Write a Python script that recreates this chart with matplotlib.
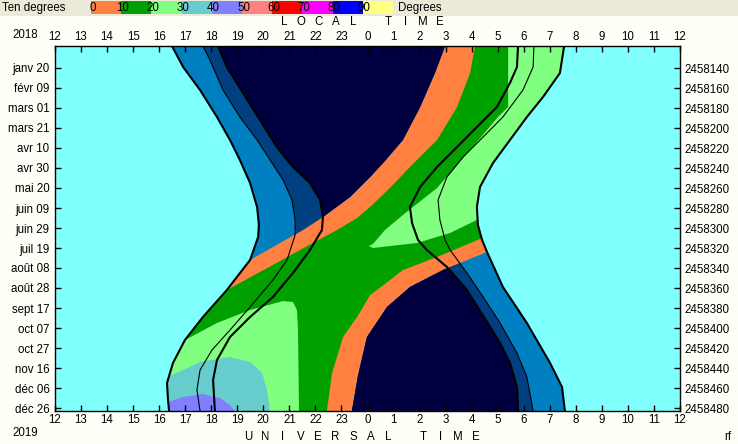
import matplotlib
matplotlib.use('Agg')
import matplotlib.pyplot as plt
from matplotlib.patches import Polygon, Rectangle

# ---------------- data (x: hours after local noon, y: JD - 2458000) -------------
hour_labels = ['12', '13', '14', '15', '16', '17', '18', '19', '20', '21', '22', '23',
               '0', '1', '2', '3', '4', '5', '6', '7', '8', '9', '10', '11', '12']
date_labels = ['janv 20', 'févr 09', 'mars 01', 'mars 21', 'avr 10', 'avr 30', 'mai 20',
               'juin 09', 'juin 29', 'juil 19', 'août 08', 'août 28', 'sept 17', 'oct 07',
               'oct 27', 'nov 16', 'déc 06', 'déc 26']
jd_ticks = [140, 160, 180, 200, 220, 240, 260, 280, 300, 320, 340, 360, 380, 400, 420,
            440, 460, 480]
jd_labels = ['2458140', '2458160', '2458180', '2458200', '2458220', '2458240', '2458260',
             '2458280', '2458300', '2458320', '2458340', '2458360', '2458380', '2458400',
             '2458420', '2458440', '2458460', '2458480']
day_range = [118, 483]

# evening: sunset (E1), civil (E2), nautical (E3)
E1_d = [118, 139, 162, 189, 212, 232, 255, 279, 297, 309, 332, 362, 389, 412, 435, 455, 472, 483]
E1_t = [4.49, 4.92, 5.57, 6.22, 6.72, 7.10, 7.49, 7.76, 7.83, 7.80, 7.49, 6.60, 5.68, 4.99, 4.53, 4.30, 4.34, 4.38]
E2_d = [118, 132, 162, 189, 212, 232, 252, 272, 292, 307, 332, 352, 379, 402, 422, 442, 462, 483]
E2_t = [5.68, 5.95, 6.45, 7.10, 7.76, 8.26, 8.76, 9.10, 9.22, 9.22, 8.91, 8.37, 7.49, 6.72, 6.03, 5.57, 5.45, 5.57]
E3_d = [118, 139, 165, 192, 219, 239, 255, 272, 289, 302, 322, 345, 369, 389, 409, 432, 452, 483]
E3_t = [6.26, 6.60, 7.22, 7.87, 8.52, 9.14, 9.79, 10.18, 10.29, 10.25, 9.79, 9.14, 8.37, 7.49, 6.72, 6.22, 6.07, 6.14]
# morning: nautical (M3), civil (M2), sunrise (M1)
M3_d = [118, 139, 155, 179, 199, 219, 239, 259, 279, 295, 312, 322, 339, 362, 394, 415, 435, 459, 483]
M3_t = [17.78, 17.74, 17.47, 16.97, 16.20, 15.44, 14.67, 14.02, 13.63, 13.71, 13.94, 14.28, 15.05, 15.82, 16.59, 17.09, 17.47, 17.74, 17.78]
M2_d = [118, 139, 162, 189, 209, 229, 249, 272, 292, 312, 322, 345, 369, 395, 425, 449, 483]
M2_t = [18.39, 18.36, 17.97, 17.20, 16.44, 15.67, 15.05, 14.71, 14.78, 14.98, 15.17, 15.82, 16.44, 17.09, 17.74, 18.12, 18.36]
M1_d = [118, 145, 169, 189, 212, 235, 259, 279, 297, 312, 324, 359, 395, 435, 459, 483]
M1_t = [19.55, 19.39, 18.74, 18.12, 17.47, 16.82, 16.32, 16.20, 16.24, 16.40, 16.59, 17.20, 18.12, 19.01, 19.47, 19.58]

# altitude 0 deg contours (object below horizon regions)
below_upper_t = [0, 14.98, 14.98, 14.59, 14.02, 13.36, 12.60, 12.10, 11.33, 10.29, 9.52, 8.64, 7.49, 6.72, 0]
below_upper_d = [118, 118, 118, 145, 179, 212, 235, 249, 269, 289, 302, 315, 332, 340, 340]
below_lower_t = [11.40, 11.64, 11.98, 12.75, 13.63, 14.90, 15.55, 16.59, 17.47, 24, 24]
below_lower_d = [483, 447, 409, 379, 359, 342, 335, 324, 317, 317, 483]
# altitude > 10 deg
alt10_t = [16.13, 15.94, 15.44, 14.67, 13.63, 12.86, 12.10, 11.60, 10.83, 9.41, 7.87, 6.60, 5.57, 0,
           0, 10.44, 10.64, 11.06, 11.60, 12.10, 12.67, 13.36, 14.67, 16.32, 17.09, 24, 24]
alt10_d = [118, 145, 179, 212, 239, 260, 279, 290, 302, 322, 344, 362, 372, 372,
           483, 483, 445, 409, 389, 367, 356, 342, 329, 311, 304, 304, 118]
# altitude > 20 deg (morning tongue, and evening lower-left region)
alt20a_t = [17.40, 17.40, 17.01, 15.94, 14.67, 13.36, 12.67, 12.21, 12.05, 12.21, 13.90, 15.17, 16.20, 17.09, 24, 24]
alt20a_d = [118, 179, 189, 222, 260, 287, 302, 316, 318, 320, 315, 305, 292, 284, 284, 118]
alt20b_t = [0, 4.42, 4.99, 6.22, 7.49, 8.76, 9.14, 9.29, 9.33, 9.37, 0]
alt20b_d = [417, 417, 412, 395, 382, 373, 374, 382, 402, 483, 483]
# altitude > 30 deg
alt30_t = [0, 3.65, 4.34, 5.57, 6.72, 7.49, 7.95, 8.14, 8.26, 0]
alt30_d = [452, 452, 449, 434, 429, 434, 445, 462, 483, 483]
# altitude > 40 deg
alt40_t = [0, 3.65, 4.34, 4.92, 5.68, 6.34, 6.72, 6.91, 0]
alt40_d = [476, 476, 474, 469, 466, 470, 477, 483, 483]

cb_levels = [0, 10, 20, 30, 40, 50, 60, 70, 80, 90]
cb_colors = ['#FF8040', '#00A000', '#80FF80', '#66CCCC', '#8080FF', '#FF8080',
             '#FF0000', '#FF00FF', '#0000FF', '#FFFF80']

DAY = '#80FFFF'
CIVIL = '#0080C0'
NAUT = '#004080'
NIGHT = '#000040'

W, H = 738, 444
fig = plt.figure(figsize=(W / 100, H / 100), dpi=100, facecolor='#FFFFF8')
ax = fig.add_axes([55 / W, 33 / H, 625 / W, 365 / H])
ax.set_xlim(0, 24)
ax.set_ylim(day_range[1], day_range[0])
ax.set_facecolor(DAY)


def pts(ts, ds):
    return list(zip(ts, ds))


def band(a_t, a_d, b_t, b_d):
    return pts(a_t, a_d) + pts(b_t, b_d)[::-1]


night_pts = band(E1_t, E1_d, M1_t, M1_d)
naut_pts = band(E2_t, E2_d, M2_t, M2_d)
astro_pts = band(E3_t, E3_d, M3_t, M3_d)

night = Polygon(night_pts, closed=True, fc=cb_colors[0], ec='none')
ax.add_patch(night)

for ts, ds, col in [(alt10_t, alt10_d, cb_colors[1]),
                    (alt20a_t, alt20a_d, cb_colors[2]),
                    (alt20b_t, alt20b_d, cb_colors[2]),
                    (alt30_t, alt30_d, cb_colors[3]),
                    (alt40_t, alt40_d, cb_colors[4])]:
    p = Polygon(pts(ts, ds), closed=True, fc=col, ec='none')
    ax.add_patch(p)
    p.set_clip_path(night)

for bt, bd in [(below_upper_t, below_upper_d), (below_lower_t, below_lower_d)]:
    blob = Polygon(pts(bt, bd), closed=True, transform=ax.transData)
    for poly_pts, col in [(night_pts, CIVIL), (naut_pts, NAUT), (astro_pts, NIGHT)]:
        p = Polygon(poly_pts, closed=True, fc=col, ec='none')
        ax.add_patch(p)
        p.set_clip_path(blob)

for ts, ds, lw in [(E1_t, E1_d, 1.5), (E2_t, E2_d, 0.8), (E3_t, E3_d, 1.5),
                   (M1_t, M1_d, 1.5), (M2_t, M2_d, 0.8), (M3_t, M3_d, 1.5)]:
    ax.plot(ts, ds, color='black', lw=lw, solid_joinstyle='round', zorder=3)

FONT = 'Liberation Sans'
FS = 8.3
ax.set_xticks(range(25))
ax.set_xticklabels(hour_labels, fontsize=FS, family=FONT)
ax.tick_params(axis='x', which='both', top=True, bottom=True, labeltop=True,
               labelbottom=True, direction='in', length=4, width=1, pad=2.5)
ax.set_yticks(jd_ticks)
ax.set_yticklabels(date_labels, fontsize=FS, family=FONT)
ax.tick_params(axis='y', which='both', left=True, right=True, direction='in',
               length=4, width=1, pad=4)
sec = ax.secondary_yaxis('right')
sec.set_yticks(jd_ticks)
sec.set_yticklabels(jd_labels, fontsize=FS, family=FONT)
sec.tick_params(axis='y', direction='in', length=0, pad=3)
sec.spines['right'].set_visible(False)
for s in ax.spines.values():
    s.set_linewidth(1)
    s.set_color('black')
    s.set_zorder(5)


def fx(x):
    return x / W


def fy(y):
    return 1 - y / H


# header band with colour scale
fig.patches.append(Rectangle((0, fy(16)), 1, 16 / H, transform=fig.transFigure,
                             fc='#ECE9D8', ec='none'))
fig.text(fx(2), fy(8), 'Ten degrees', fontsize=FS, family=FONT, va='center', ha='left')
for i, (lev, col) in enumerate(zip(cb_levels, cb_colors)):
    x0 = 91 + 30.2 * i
    fig.patches.append(Rectangle((fx(x0), fy(14)), 30.2 / W, 13 / H,
                                 transform=fig.transFigure, fc=col, ec='none'))
for i, lev in enumerate(cb_levels):
    x0 = 91 + 30.2 * i
    fig.text(fx(x0 + 1.5), fy(8), str(lev), fontsize=FS, family=FONT,
             va='center', ha='center')
fig.text(fx(398), fy(8), 'Degrees', fontsize=FS, family=FONT, va='center', ha='left')

# spaced titles
for k, ch in enumerate('LOCAL TIME'):
    if ch != ' ':
        fig.text(fx(284 + 17.3 * k), fy(22), ch, fontsize=FS, family=FONT,
                 va='center', ha='center')
for k, ch in enumerate('UNIVERSAL TIME'):
    if ch != ' ':
        fig.text(fx(248 + 17.5 * k), fy(437), ch, fontsize=FS, family=FONT,
                 va='center', ha='center')

fig.text(fx(25), fy(35), '2018', fontsize=FS, family=FONT, va='center', ha='center')
fig.text(fx(25), fy(433), '2019', fontsize=FS, family=FONT, va='center', ha='center')
fig.text(fx(728), fy(437), 'rf', fontsize=FS, family=FONT, va='center', ha='center')

fig.savefig('out.png', dpi=100, facecolor=fig.get_facecolor())
